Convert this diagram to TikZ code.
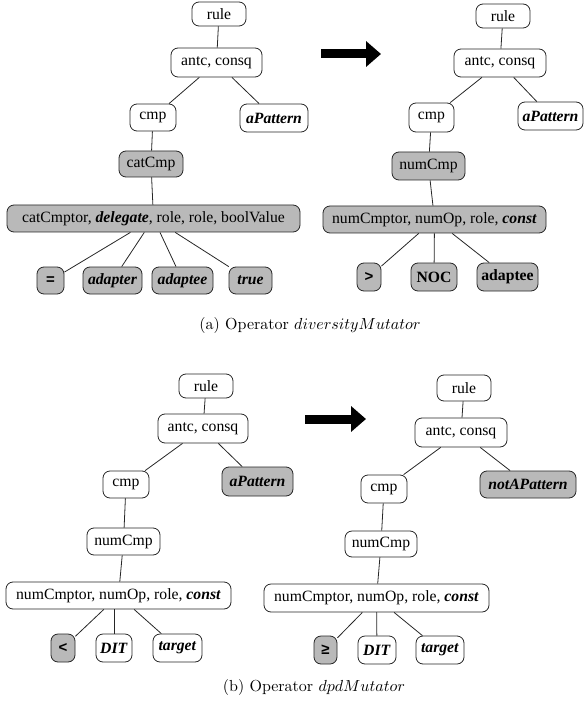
\documentclass[tikz,border=0pt]{standalone}
\usepackage{fontspec}
\newfontfamily\tnr{Liberation Serif}
\newfontfamily\opfont{Liberation Sans}
\usepackage{tikz}
\usetikzlibrary{arrows.meta}
\definecolor{nodegray}{RGB}{185,185,185}
\newcommand{\bi}[1]{\textbf{\textit{#1}}}
\newcommand{\capt}[1]{\scalebox{1.6}{#1}}

\tikzset{
  tn/.style={draw=black!85, line width=0.8pt, rounded corners=7pt, inner sep=0pt,
    minimum height=27pt, font=\tnr\fontsize{15.7}{18}\selectfont},
  gn/.style={tn, fill=nodegray},
  op/.style={font=\opfont\bfseries\fontsize{15}{18}\selectfont},
  tline/.style={draw=black!85, line width=0.8pt},
  bigarrow/.style={line width=9pt, -{Triangle[length=15pt,width=25pt]}}
}

\begin{document}
\begin{tikzpicture}[x=1pt, y=-1pt]
  \useasboundingbox (0,0) rectangle (584,708);

  % (a) left tree
  \node[tn, minimum width=54pt, minimum height=24pt] (ar) at (219,14) {rule};
  \node[tn, minimum width=91pt, minimum height=29pt] (aa) at (216.5,62.5) {antc, consq};
  \node[tn, minimum width=46pt] (ac) at (153,117.5) {cmp};
  \node[tn, minimum width=68pt, minimum height=28pt] (ap) at (274,118) {\bi{aPattern}};
  \node[gn, minimum width=64pt, minimum height=26pt] (ak) at (151,164) {catCmp};
  \node[gn, minimum width=293pt] (at) at (153.5,218.5) {catCmptor, \bi{delegate}, role, role, boolValue};
  \node[gn, minimum width=27pt, op] (ae) at (50.5,280.5) {=};
  \node[gn, minimum width=59pt] (ad) at (112.5,280.5) {\bi{adapter}};
  \node[gn, minimum width=61pt] (ee) at (182.5,280.5) {\bi{adaptee}};
  \node[gn, minimum width=43pt] (au) at (250.5,280.5) {\bi{true}};
  \path[tline]
    (ar) edge (aa)
    (aa) edge (ac) edge (ap)
    (ac) edge (ak)
    (ak) edge (at)
    (at) edge (ae) edge (ad) edge (ee) edge (au);

  % (a) right tree
  \node[tn, minimum width=54pt, minimum height=24pt] (br) at (503,16) {rule};
  \node[tn, minimum width=92pt, minimum height=28pt] (ba) at (500,63) {antc, consq};
  \node[tn, minimum width=45pt, minimum height=29pt] (bc) at (431.5,117.5) {cmp};
  \node[tn, minimum width=65pt, minimum height=28pt] (bp) at (550.5,116) {\bi{aPattern}};
  \node[gn, minimum width=73pt, minimum height=28pt] (bk) at (428.5,166) {numCmp};
  \node[gn, minimum width=223pt] (bt) at (434.5,219.5) {numCmptor, numOp, role, \bi{const}};
  \node[gn, minimum width=24pt, minimum height=28pt, op] (bg) at (369,277) {>};
  \node[gn, minimum width=46pt, minimum height=28pt] (bn) at (434,277) {\textbf{NOC}};
  \node[gn, minimum width=61pt, minimum height=28pt] (bd) at (507.5,277) {\textbf{adaptee}};
  \path[tline]
    (br) edge (ba)
    (ba) edge (bc) edge (bp)
    (bc) edge (bk)
    (bk) edge (bt)
    (bt) edge (bg) edge (bn) edge (bd);

  \coordinate (a0) at (321,54);
  \coordinate (a1) at (381,54);
  \draw[bigarrow] (a0) -- (a1);
  \node (capa) at (310,325) {\capt{(a) Operator $diversityMutator$}};

  % (b) left tree
  \node[tn, minimum width=54pt, minimum height=24pt] (cr) at (206,386) {rule};
  \node[tn, minimum width=90pt, minimum height=29pt] (ca) at (203,428.5) {antc, consq};
  \node[tn, minimum width=46pt] (cc) at (126,484.5) {cmp};
  \node[gn, minimum width=71pt, minimum height=29pt] (cp) at (257.5,481.5) {\bi{aPattern}};
  \node[tn, minimum width=73pt] (ck) at (123.5,541.5) {numCmp};
  \node[tn, minimum width=225pt] (ct) at (118.5,595.5) {numCmptor, numOp, role, \bi{const}};
  \node[gn, minimum width=24pt, minimum height=28pt, op] (cl) at (63,648) {<};
  \node[tn, minimum width=36pt, minimum height=28pt] (cd) at (114,648) {\bi{DIT}};
  \node[tn, minimum width=49pt, minimum height=28pt] (cg) at (177.5,648) {\bi{target}};
  \path[tline]
    (cr) edge (ca)
    (ca) edge (cc) edge (cp)
    (cc) edge (ck)
    (ck) edge (ct)
    (ct) edge (cl) edge (cg)
    (cd) edge (cd |- ct.south);

  % (b) right tree
  \node[tn, minimum width=54pt, minimum height=26pt] (dr) at (464,388) {rule};
  \node[tn, minimum width=92pt, minimum height=29pt] (da) at (461,432.5) {antc, consq};
  \node[tn, minimum width=46pt, minimum height=28pt] (dc) at (384,489) {cmp};
  \node[gn, minimum width=96pt] (dp) at (528,484.5) {\bi{notAPattern}};
  \node[tn, minimum width=72pt, minimum height=26pt] (dk) at (381,544) {numCmp};
  \node[tn, minimum width=225pt, minimum height=28pt] (dt) at (376.5,598) {numCmptor, numOp, role, \bi{const}};
  \node[gn, minimum width=23pt, minimum height=28pt, op] (dl) at (325.5,650) {≥};
  \node[tn, minimum width=38pt, minimum height=28pt] (dd) at (377,650) {\bi{DIT}};
  \node[tn, minimum width=48pt, minimum height=28pt] (dg) at (440,650) {\bi{target}};
  \path[tline]
    (dr) edge (da)
    (da) edge (dc) edge (dp)
    (dc) edge (dk)
    (dk) edge (dt)
    (dt) edge (dl) edge (dd) edge (dg);

  \coordinate (b0) at (305,419);
  \coordinate (b1) at (366,419);
  \draw[bigarrow] (b0) -- (b1);
  \node (capb) at (314,687) {\capt{(b) Operator $dpdMutator$}};
\end{tikzpicture}
\end{document}
